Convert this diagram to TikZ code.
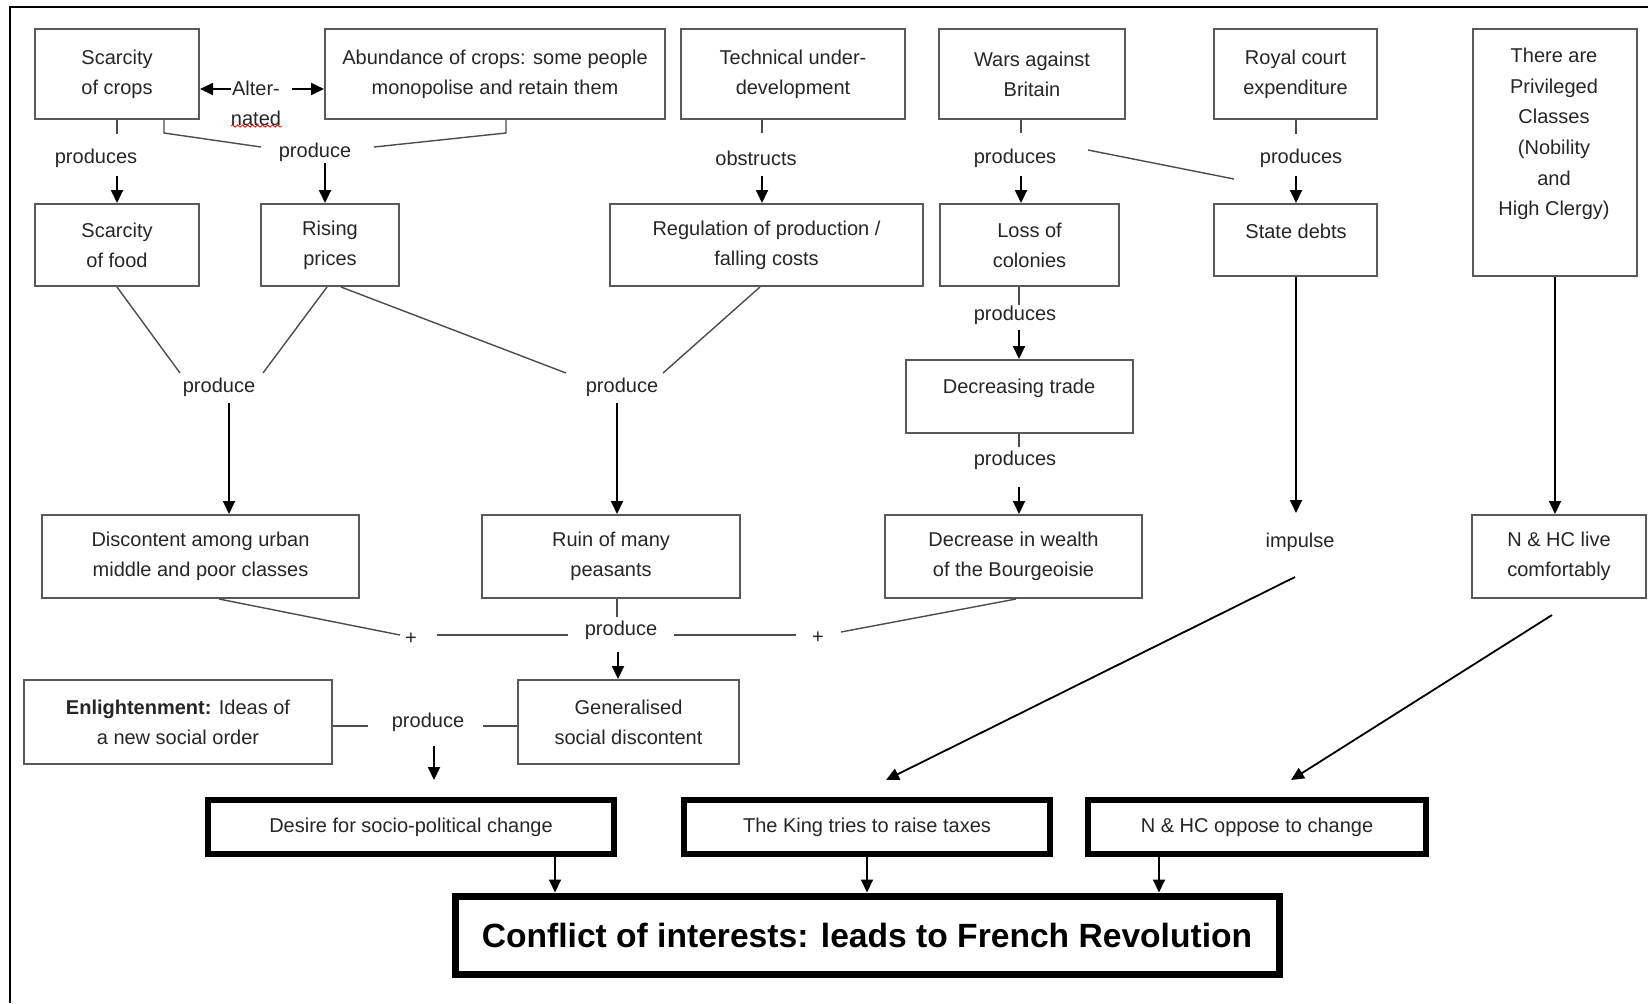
\documentclass[tikz,border=0pt]{standalone}
\usepackage{fontspec}
\setmainfont{Liberation Sans}
\usetikzlibrary{arrows.meta,fit,decorations.pathmorphing}
\begin{document}
\begin{tikzpicture}[x=0.5pt,y=-0.5pt,
  every node/.style={font=\fontsize{10}{15}\selectfont, text=black!85},
  box/.style={draw=black!65, line width=1pt, inner sep=0pt},
  tbox/.style={draw=black, line width=3pt, inner sep=0pt},
  lbl/.style={inner sep=1pt, align=center},
  conn/.style={draw=black!70, line width=0.7pt},
  arr/.style={draw=black, line width=0.9pt, -{Triangle[length=6.5pt,width=6pt]}},
]
\useasboundingbox (0,0) rectangle (1648,1003);
\fill[white] (0,0) rectangle (1648,1003);
\draw[line width=1.2pt] (10,1003) -- (10,7) -- (1648,7);

% ---- boxes ----
\node[box, fit={(35,29) (199,119)}] (sc) {};
\node[box, fit={(325,29) (665,119)}] (ab) {};
\node[box, fit={(681,29) (905,119)}] (tech) {};
\node[box, fit={(939,29) (1125,119)}] (wars) {};
\node[box, fit={(1214,29) (1377,119)}] (royal) {};
\node[box, fit={(1473,29) (1637,276)}] (priv) {};
\node[box, fit={(35,204) (199,286)}] (food) {};
\node[box, fit={(261,204) (399,286)}] (rising) {};
\node[box, fit={(610,204) (923,286)}] (reg) {};
\node[box, fit={(940,204) (1119,286)}] (loss) {};
\node[box, fit={(1214,204) (1377,276)}] (debts) {};
\node[box, fit={(906,360) (1133,433)}] (trade) {};
\node[box, fit={(42,515) (359,598)}] (disc) {};
\node[box, fit={(482,515) (740,598)}] (ruin) {};
\node[box, fit={(885,515) (1142,598)}] (wealth) {};
\node[box, fit={(1472,515) (1646,598)}] (nhc) {};
\node[box, fit={(24,680) (332,764)}] (enl) {};
\node[box, fit={(518,680) (739,764)}] (gen) {};
\node[tbox, fit={(208,800) (614,854)}] (desire) {};
\node[tbox, fit={(684,800) (1050,854)}] (king) {};
\node[tbox, fit={(1088,800) (1426,854)}] (oppose) {};
\node[tbox, line width=3.5pt, fit={(455,896) (1279,974)}] (conflict) {};

% ---- box texts ----
\node[lbl] (sct) at (sc.center) {Scarcity\\of crops};
\node[lbl] (abt) at (ab.center) {Abundance of crops: some people\\monopolise and retain them};
\node[lbl] (techt) at (tech.center) {Technical under-\\development};
\node[lbl] (warst) at (wars.center) {Wars against\\Britain};
\node[lbl] (royalt) at (royal.center) {Royal court\\expenditure};
\node[lbl, font=\fontsize{10}{15.3}\selectfont] (privt) at (1554,134) {There are\\Privileged\\Classes\\(Nobility\\and\\High Clergy)};
\node[lbl] (foodt) at (food.center) {Scarcity\\of food};
\node[lbl] (risingt) at (rising.center) {Rising\\prices};
\node[lbl] (regt) at (reg.center) {Regulation of production /\\falling costs};
\node[lbl] (losst) at (loss.center) {Loss of\\colonies};
\node[lbl] (debtst) at (1296,231) {State debts};
\node[lbl] (tradet) at (1019,388) {Decreasing trade};
\node[lbl] (disct) at (disc.center) {Discontent among urban\\middle and poor classes};
\node[lbl] (ruint) at (ruin.center) {Ruin of many\\peasants};
\node[lbl] (wealtht) at (wealth.center) {Decrease in wealth\\of the Bourgeoisie};
\node[lbl] (nhct) at (nhc.center) {N \& HC live\\comfortably};
\node[lbl] (enlt) at (enl.center) {\textbf{Enlightenment:} Ideas of\\a new social order};
\node[lbl] (gent) at (gen.center) {Generalised\\social discontent};
\node[lbl] (desiret) at (desire.center) {Desire for socio-political change};
\node[lbl] (kingt) at (king.center) {The King tries to raise taxes};
\node[lbl] (opposet) at (oppose.center) {N \& HC oppose to change};
\node[lbl, font=\fontsize{16.8}{20}\selectfont\bfseries, text=black] (conflictt) at (conflict.center) {Conflict of interests: leads to French Revolution};

% ---- labels ----
\node[lbl] (alt) at (256,103) {Alter-\\nated};
\node[lbl] (lp1) at (96,158) {produces};
\node[lbl] (lp2) at (315,152) {produce};
\node[lbl] (lobs) at (756,158) {obstructs};
\node[lbl] (lp3) at (1015,158) {produces};
\node[lbl] (lp4) at (1301,158) {produces};
\node[lbl] (lp5) at (1015,315) {produces};
\node[lbl] (lp6) at (1015,460) {produces};
\node[lbl] (limp) at (1300,542) {impulse};
\node[lbl] (lp7) at (219,387) {produce};
\node[lbl] (lp8) at (622,387) {produce};
\node[lbl] (lp9) at (621,630) {produce};
\node[lbl] (plus1) at (411,639) {+};
\node[lbl] (plus2) at (818,638) {+};
\node[lbl] (lp10) at (428,722) {produce};

% ---- coordinates ----
\coordinate (altL) at (231,89);
\coordinate (altR) at (292,89);
\coordinate (q1) at (164,133);   \coordinate (q1e) at (261,147);
\coordinate (q2) at (506,133);   \coordinate (q2e) at (374,147);
\coordinate (q3) at (325,163);
\coordinate (q4) at (762,133);   \coordinate (q5) at (762,176);
\coordinate (w1) at (1021,133);  \coordinate (w2) at (1021,176);
\coordinate (w3) at (1088,150);  \coordinate (w4) at (1234,179);
\coordinate (r1) at (1296,176);
\coordinate (s1) at (117,176);
\coordinate (l1) at (1019,305);  \coordinate (l2) at (1019,330);
\coordinate (t1) at (1019,447);  \coordinate (t2) at (1019,487);
\coordinate (d1) at (1296,513);
\coordinate (m1) at (180,373);   \coordinate (m2) at (263,373);
\coordinate (m3) at (566,373);   \coordinate (m4) at (663,373);
\coordinate (a1) at (229,403);   \coordinate (a2) at (617,403);
\coordinate (b1) at (400,635);   \coordinate (b2) at (437,635);
\coordinate (b3) at (568,635);   \coordinate (b4) at (674,635);
\coordinate (b5) at (796,635);   \coordinate (b6) at (841,632);
\coordinate (b7) at (617,617);   \coordinate (b8) at (618,652);
\coordinate (e1) at (368,726);   \coordinate (e2) at (483,726);
\coordinate (e3) at (434,746);   \coordinate (e4) at (434,780);
\coordinate (i1) at (1295,577);  \coordinate (i2) at (886,780);
\coordinate (n1) at (1552,615);  \coordinate (n2) at (1291,780);
\coordinate (f1) at (555,0); \coordinate (f2) at (867,0); \coordinate (f3) at (1159,0);

% ---- connectors ----
\draw[arr] (altL) -- (sc.east |- altL);
\draw[arr] (altR) -- (ab.west |- altR);
\draw[red, line width=0.4pt, decorate, decoration={snake, amplitude=0.6pt, segment length=2.5pt}] (231,126) -- (282,126);

\draw[conn] (sc.south) -- ++(0,14);
\draw[arr] (s1) -- (food.north -| s1);

\draw[conn] (sc.south -| q1) -- (q1) -- (q1e);
\draw[conn] (ab.south -| q2) -- (q2) -- (q2e);
\draw[arr] (q3) -- (rising.north -| q3);

\draw[conn] (tech.south -| q4) -- (q4);
\draw[arr] (q5) -- (reg.north -| q5);

\draw[conn] (wars.south -| w1) -- (w1);
\draw[arr] (w2) -- (loss.north -| w2);
\draw[conn] (w3) -- (w4);

\draw[conn] (royal.south -| r1) -- ++(0,14);
\draw[arr] (r1) -- (debts.north -| r1);

\draw[conn] (loss.south -| l1) -- (l1);
\draw[arr] (l2) -- (trade.north -| l2);
\draw[conn] (trade.south -| t1) -- (t1);
\draw[arr] (t2) -- (wealth.north -| t2);

\draw[arr] (debts.south -| d1) -- (d1);
\draw[arr] (priv.south) -- (nhc.north -| priv.south);

\draw[conn] (food.south) -- (m1);
\draw[conn] (rising.south -| 327,0) -- (m2);
\draw[conn] (rising.south -| 341,0) -- (m3);
\draw[conn] (reg.south -| 760,0) -- (m4);
\draw[arr] (a1) -- (disc.north -| a1);
\draw[arr] (a2) -- (ruin.north -| a2);

\draw[conn] (disc.south -| 219,0) -- (b1);
\draw[conn] (b2) -- (b3);
\draw[conn] (b4) -- (b5);
\draw[conn] (b6) -- (wealth.south -| 1016,0);
\draw[conn] (ruin.south -| b7) -- (b7);
\draw[arr] (b8) -- (gen.north -| b8);

\draw[conn] (enl.east |- e1) -- (e1);
\draw[conn] (e2) -- (gen.west |- e2);
\draw[arr] (e3) -- (e4);

\draw[arr] (i1) -- (i2);
\draw[arr] (n1) -- (n2);

\draw[arr] (desire.south -| f1) -- (conflict.north -| f1);
\draw[arr] (king.south -| f2) -- (conflict.north -| f2);
\draw[arr] (oppose.south -| f3) -- (conflict.north -| f3);
\end{tikzpicture}
\end{document}
